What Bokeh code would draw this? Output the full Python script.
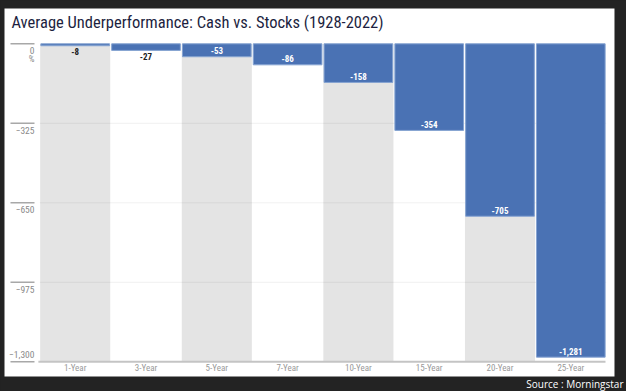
from bokeh.plotting import figure
from bokeh.models import ColumnDataSource, Range1d, Label
from bokeh.core.properties import value
from bokeh.embed import file_html
from bokeh.resources import INLINE

# ---- data ----
categories = ["1-Year", "3-Year", "5-Year", "7-Year", "10-Year", "15-Year", "20-Year", "25-Year"]
underperformance = [-8, -27, -53, -86, -158, -354, -705, -1281]
y_ticks = [0, -325, -650, -975, -1300]
y_tick_labels = ["0", "\u2212325", "\u2212650", "\u2212975", "\u22121,300"]
title_text = "Average Underperformance: Cash vs. Stocks (1928-2022)"
source_text = "Source : Morningstar"

# ---- style ----
FONT = "'Roboto Condensed', 'Liberation Sans Narrow', 'Arial Narrow', Roboto, sans-serif"
SRC_FONT = "Open Sans"
DARK = "#232323"
BLUE = "#4a72b4"
BLUE_EDGE = "#86a4d2"
COLUMN_GREY = "#e4e4e4"

n = len(categories)
xs = list(range(n))
# whole canvas is the plot frame; white panel drawn inside it
x_lo, x_hi = -1.0551, 7.7867
y_lo, y_hi = -1421.4, 177.0
panel_l, panel_r = -0.9986, 7.617
panel_t, panel_b = 144.3, -1360.1
y_min = y_ticks[-1]

p = figure(width=626, height=391,
           x_range=Range1d(x_lo, x_hi), y_range=Range1d(y_lo, y_hi),
           output_backend="svg", toolbar_location=None,
           x_axis_location=None, y_axis_location=None,
           min_border_left=0, min_border_right=0,
           min_border_top=0, min_border_bottom=0,
           border_fill_color=DARK, background_fill_color=DARK,
           outline_line_color=None)
p.title.visible = False
p.xgrid.visible = False
p.ygrid.visible = False

# white panel
p.quad(left=[panel_l], right=[panel_r], top=[panel_t], bottom=[panel_b],
       fill_color="white", line_color=None)

# alternating grey columns
grey_x = [i for i in xs if i % 2 == 0]
p.vbar(x=grey_x, top=0, bottom=y_min, width=0.99,
       fill_color=COLUMN_GREY, line_color=None)

# faint grid lines
grid_y = y_ticks[1:-1]
p.segment(x0=[-0.5] * len(grid_y), x1=[n - 0.5] * len(grid_y), y0=grid_y, y1=grid_y,
          line_color="black", line_alpha=0.06, line_width=1)

# baseline
p.segment(x0=[-0.52], x1=[n - 0.51], y0=[y_min], y1=[y_min],
          line_color="#c4c4c4", line_width=2)

# bars
src = ColumnDataSource(dict(x=xs, v=underperformance))
p.vbar(x="x", top=0, bottom="v", width=0.97, source=src,
       fill_color=BLUE, line_color=BLUE_EDGE, line_width=1)

# value labels
inside = [i for i, v in enumerate(underperformance) if v <= -40]
outside = [i for i, v in enumerate(underperformance) if v > -40]
src_in = ColumnDataSource(dict(x=[xs[i] for i in inside],
                               y=[underperformance[i] for i in inside],
                               t=[f"{underperformance[i]:,}" for i in inside]))
src_out = ColumnDataSource(dict(x=[xs[i] for i in outside],
                                y=[underperformance[i] for i in outside],
                                t=[f"{underperformance[i]:,}" for i in outside]))
p.text(x="x", y="y", text="t", source=src_in, text_align="center",
       text_baseline="middle", y_offset=-6, text_color="white",
       text_font=value(FONT), text_font_size="9px", text_font_style="bold")
p.text(x="x", y="y", text="t", source=src_out, text_align="center",
       text_baseline="middle", y_offset=6, text_color="#222222",
       text_font=value(FONT), text_font_size="9px", text_font_style="bold")

# y tick marks + labels
tick_x0, tick_x1 = -0.914, -0.575
p.segment(x0=[tick_x0] * len(y_ticks), x1=[tick_x1] * len(y_ticks),
          y0=y_ticks, y1=y_ticks, line_color="#a8a8a8", line_width=1.5)
offs = [7] * (len(y_ticks) - 1) + [-7]
p.text(x=[tick_x1] * len(y_ticks), y=y_ticks, text=y_tick_labels,
       y_offset=offs, text_align="right", text_baseline="middle",
       text_color="#8a8a8a", text_font=value(FONT), text_font_size="9.5px")
p.text(x=[tick_x1], y=[y_ticks[0]], text=["%"], y_offset=15,
       text_align="right", text_baseline="middle",
       text_color="#8a8a8a", text_font=value(FONT), text_font_size="9px")

# x category labels
p.text(x=xs, y=[y_min] * n, text=categories, y_offset=6,
       text_align="center", text_baseline="middle",
       text_color="#999999", text_font=value(FONT), text_font_size="9px")

# title
p.add_layout(Label(x=panel_l, y=panel_t, x_offset=7, y_offset=-14.5, text=title_text,
                   text_align="left", text_baseline="alphabetic",
                   text_color="#1d1f3f", text_font=FONT, text_font_size="16.5px"))

# source note
p.add_layout(Label(x=panel_r, y=panel_b, x_offset=9, y_offset=-7, text=source_text,
                   text_align="right", text_baseline="middle",
                   text_color="white", text_font=SRC_FONT, text_font_size="10px"))

html = file_html(p, INLINE).replace("<body>", '<body style="margin:0;background:#232323;">')
open("out.html", "w").write(html)
